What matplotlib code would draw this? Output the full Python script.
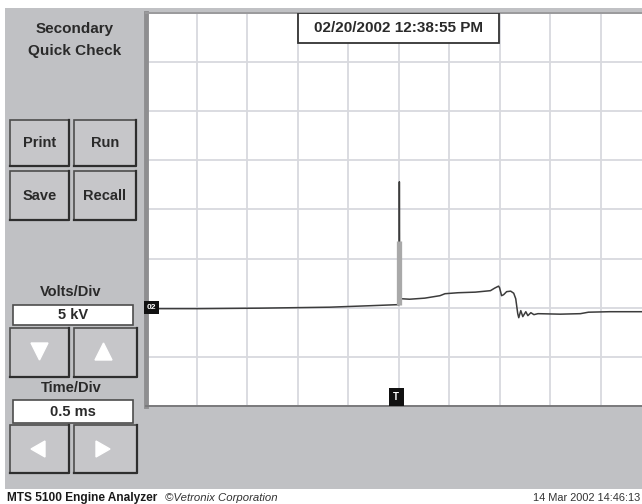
import numpy as np
import matplotlib
matplotlib.use("Agg")
from matplotlib import pyplot as plt
from matplotlib.patches import Rectangle, Polygon
from matplotlib.ticker import MultipleLocator

# secondary ignition trace, time in ms from left edge, voltage in kV
trace_ms = [0.00, 0.53, 1.13, 1.82, 2.22, 2.475, 2.505, 2.508, 2.512, 2.525,
            2.61, 2.76, 2.91, 2.96, 3.09, 3.26, 3.41, 3.45, 3.49, 3.50,
            3.52, 3.54, 3.57, 3.61, 3.64, 3.66, 3.68, 3.69, 3.71, 3.73,
            3.76, 3.78, 3.81, 3.84, 3.88, 4.10, 4.30, 4.38, 4.59, 4.91]
trace_kv = [-0.10, -0.10, -0.05, 0.05, 0.20, 0.30, 0.30, 12.8, 0.9, 0.91,
            0.86, 0.97, 1.22, 1.42, 1.52, 1.58, 1.73, 1.98, 2.19, 2.03,
            1.22, 1.32, 1.63, 1.68, 1.47, 0.91, -0.61, -1.02, -0.30, -0.91,
            -0.41, -0.81, -0.51, -0.71, -0.61, -0.66, -0.61, -0.46, -0.41, -0.41]
spike_ms = 2.508
spike_band_kv = [0.3, 6.8]

volts_per_div = 5      # kV
time_per_div = 0.5     # ms
kv_range = [-10, 30]
ms_range = [0, 4.91]

title_lines = ["Secondary", "Quick Check"]
buttons = ["Print", "Run", "Save", "Recall"]
stamp = "02/20/2002 12:38:55 PM"
footer_left = "MTS 5100 Engine Analyzer"
footer_mid = "\u00a9Vetronix Corporation"
footer_right = "14 Mar 2002 14:46:13"

W, H = 642, 504
plt.rcParams["font.family"] = ["Liberation Sans", "DejaVu Sans"]
fig = plt.figure(figsize=(W / 100, H / 100), dpi=100)
fig.patch.set_facecolor("white")

PANEL = "#c0c1c4"
EDGE = "#4d4d4d"
INK = "#2a2a2a"

# background UI layer in pixel coordinates
ui = fig.add_axes([0, 0, 1, 1], zorder=0)
ui.set_xlim(0, W)
ui.set_ylim(H, 0)
ui.axis("off")
ui.add_patch(Rectangle((5, 8), W - 5, 481, facecolor=PANEL, edgecolor="none"))


def button(x, y, w, h, label=None):
    ui.add_patch(Rectangle((x, y), w, h, facecolor="#c6c6c9", edgecolor=EDGE, lw=1.2))
    ui.plot([x + w, x + w, x], [y, y + h, y + h], color="#2e2e2e", lw=1.6)
    if label:
        ui.text(x + w / 2, y + h / 2, label, ha="center", va="center",
                fontsize=10.5, fontweight="bold", color=INK)


def field(x, y, w, h, label):
    ui.add_patch(Rectangle((x, y), w, h, facecolor="white", edgecolor=EDGE, lw=1.2))
    ui.text(x + w / 2, y + h / 2, label, ha="center", va="center",
            fontsize=10.5, fontweight="bold", color=INK)


ui.text(75, 29, title_lines[0], ha="center", va="center", fontsize=11,
        fontweight="bold", color=INK)
ui.text(75, 51, title_lines[1], ha="center", va="center", fontsize=11,
        fontweight="bold", color=INK)

button(10, 120, 59, 46, buttons[0])
button(74, 120, 62, 46, buttons[1])
button(10, 171, 59, 49, buttons[2])
button(74, 171, 62, 49, buttons[3])

ui.text(71, 292, "Volts/Div", ha="center", va="center", fontsize=10.5,
        fontweight="bold", color=INK)
field(13, 305, 120, 20, "%d kV" % volts_per_div)
button(10, 328, 59, 49)
button(74, 328, 63, 49)
ui.add_patch(Polygon([(31, 343), (48, 343), (39.5, 360)], closed=True, color="white"))
ui.add_patch(Polygon([(95, 360), (112, 360), (103.5, 343)], closed=True, color="white"))

ui.text(71, 388, "Time/Div", ha="center", va="center", fontsize=10.5,
        fontweight="bold", color=INK)
field(13, 400, 120, 23, "%.1f ms" % time_per_div)
button(10, 425, 59, 48)
button(74, 425, 63, 48)
ui.add_patch(Polygon([(45, 441), (45, 457), (31, 449)], closed=True, color="white"))
ui.add_patch(Polygon([(96, 441), (96, 457), (110, 449)], closed=True, color="white"))

ui.text(7, 498, footer_left, ha="left", va="center", fontsize=8.6,
        fontweight="bold", color="#1a1a1a")
ui.text(165, 498, footer_mid, ha="left", va="center", fontsize=8.2,
        style="italic", color="#333333")
ui.text(640, 498, footer_right, ha="right", va="center", fontsize=7.9,
        color="#333333")

# scope area
ax = fig.add_axes([146 / W, 1 - 406 / H, 1 - 146 / W, (406 - 12.7) / H], zorder=1)
ax.set_facecolor("white")
ax.set_xlim(ms_range)
ax.set_ylim(kv_range)
ax.xaxis.set_major_locator(MultipleLocator(time_per_div))
ax.yaxis.set_major_locator(MultipleLocator(volts_per_div))
ax.grid(True, color="#d8d9de", lw=1.3)
ax.tick_params(left=False, bottom=False, labelleft=False, labelbottom=False)
ax.set_axisbelow(True)
ax.spines["right"].set_visible(False)
ax.spines["left"].set_color("#8e8e90")
ax.spines["left"].set_linewidth(3.5)
ax.spines["top"].set_color("#9a9a9c")
ax.spines["top"].set_linewidth(1.4)
ax.spines["bottom"].set_color("#7a7a7c")
ax.spines["bottom"].set_linewidth(1.4)

ax.plot(trace_ms, trace_kv, color="#3c3c3c", lw=1.1, zorder=3)
ax.plot([spike_ms, spike_ms], spike_band_kv, color="#a9a9a9", lw=3.8,
        solid_capstyle="butt", zorder=4)

# channel and trigger markers
ax.text(0.01, 0, "02", ha="left", va="center", fontsize=6, color="white",
        fontweight="bold", zorder=5,
        bbox=dict(boxstyle="square,pad=0.35", facecolor="#111111", edgecolor="none"))
ax.text(spike_ms - 0.03, kv_range[0] + 0.4, "T", ha="center", va="bottom",
        fontsize=7, color="white", fontweight="bold", zorder=5,
        bbox=dict(boxstyle="square,pad=0.45", facecolor="#111111", edgecolor="none"))

# time stamp box
ax.add_patch(Rectangle((0.306, 0.922), 0.405, 0.078, transform=ax.transAxes,
                       facecolor="white", edgecolor="#333333", lw=1.3, zorder=6))
ax.text(0.5085, 0.961, stamp, transform=ax.transAxes, ha="center", va="center",
        fontsize=11, fontweight="bold", color=INK, zorder=7)

fig.savefig("out.png", dpi=100)
